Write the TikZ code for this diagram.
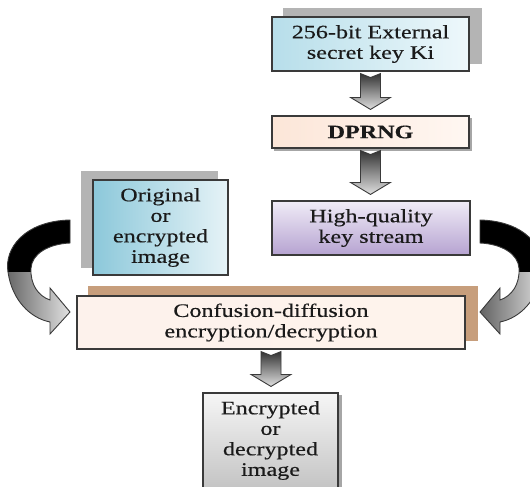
\documentclass[tikz,border=0pt]{standalone}
\usepackage{fontspec}
\setmainfont{Liberation Serif}[FakeStretch=1.27, FakeBold=0.4]
\usetikzlibrary{calc,backgrounds}
\definecolor{bordc}{HTML}{3A3A3A}
\definecolor{txtc}{HTML}{1A1A1A}
\definecolor{cyanL}{HTML}{B7DEEA}
\definecolor{cyanR}{HTML}{EEF8FB}
\definecolor{peachL}{HTML}{FCE6D8}
\definecolor{peachM}{HTML}{F8C6A4}
\definecolor{peachR}{HTML}{FFF7F2}
\definecolor{confL}{HTML}{FDF2EC}
\definecolor{confM}{HTML}{F9CBAA}
\definecolor{confR}{HTML}{FEF3EC}
\definecolor{lavT}{HTML}{F0ECF7}
\definecolor{lavB}{HTML}{B6A3D1}
\definecolor{blueL}{HTML}{8CC8DA}
\definecolor{blueR}{HTML}{E6F3F7}
\definecolor{grayT}{HTML}{F6F6F6}
\definecolor{grayB}{HTML}{C4C4C4}
\definecolor{shgray}{HTML}{B4B4B4}
\definecolor{shtan}{HTML}{C79E7C}

\newcommand\mybentarrow{%
  \path[save path=\carrp] (70,220) .. controls (25,221) and (4,248) .. (8,272)
     .. controls (12,300) and (30,318) .. (50,322) -- (50,334) -- (70,312) -- (50,288) -- (50,300)
     .. controls (38,296) and (30,284) .. (31,268) .. controls (32,254) and (48,244) .. (70,243) -- cycle;
  \begin{scope}
    \path[use path=\carrp, clip];
    \shade[left color=black!65, right color=black!8] (0,262) rectangle (75,340);
    \fill[black] (0,212) rectangle (75,272);
  \end{scope}
  \path[use path=\carrp, draw=bordc, line width=0.9pt];
}

\newcommand\myblockarrow[2]{%
  \path[barrow] let \p1=(#1.south), \p2=(#2.north) in
    (\x1-10pt,\y1-2pt) -- (\x1,\y1-6pt) -- (\x1+10pt,\y1-2pt) -- (\x1+10pt,\y2+18pt)
    -- (\x1+20pt,\y2+18pt) -- (\x1,\y2+6pt) -- (\x1-20pt,\y2+18pt) -- (\x1-10pt,\y2+18pt) -- cycle;
}

\begin{document}
\begin{tikzpicture}[x=1pt,y=-1pt,
  box/.style={draw=bordc, line width=1.1pt, inner sep=0pt, align=center, text=txtc,
    font=\fontsize{19}{20.5}\selectfont},
  barrow/.style={draw=bordc, line width=0.9pt, top color=black!80, bottom color=black!12},
  shad/.style={fill=shgray, draw=none}]
\useasboundingbox (0,0) rectangle (530,487);
\clip (0,0) rectangle (530,487);

\node[box, minimum width=197pt, minimum height=54pt, left color=cyanL, right color=cyanR]
  (key) at (370.5,44) {256-bit External\\secret key Ki};
\node[box, minimum width=197pt, minimum height=32pt, left color=peachL, middle color=peachM, right color=peachR,
  font=\fontsize{19}{20.5}\selectfont\bfseries]
  (prng) at (370.5,132) {DPRNG};
\node[box, minimum width=198pt, minimum height=54pt, top color=lavT, bottom color=lavB]
  (ks) at (371,228) {High-quality\\key stream};
\node[box, minimum width=135pt, minimum height=95pt, left color=blueL, right color=blueR]
  (orig) at (160.5,227.5) {Original\\or\\encrypted\\image};
\node[box, minimum width=388pt, minimum height=53pt, left color=confL, middle color=confM, right color=confR]
  (conf) at (271,322.5) {Confusion-diffusion\\encryption/decryption};
\node[box, minimum width=135pt, minimum height=95pt, top color=grayT, bottom color=grayB]
  (out) at (270.5,440.5) {Encrypted\\or\\decrypted\\image};

\begin{scope}[on background layer]
  \fill[shad] ([shift={(12,-8)}]key.north west) rectangle ([shift={(12,-8)}]key.south east);
  \fill[fill=gray!70] ([shift={(2.5,2.5)}]prng.north west) rectangle ([shift={(2.5,2.5)}]prng.south east);
  \fill[shad] ([shift={(-11,-8)}]orig.north west) rectangle ([shift={(-11,-8)}]orig.south east);
  \fill[fill=shtan] ([shift={(12,-9)}]conf.north west) rectangle ([shift={(12,-9)}]conf.south east);
  \fill[fill=gray!70] ([shift={(3,3)}]out.north west) rectangle ([shift={(3,3)}]out.south east);
\end{scope}

\myblockarrow{key}{prng}
\myblockarrow{prng}{ks}
\myblockarrow{conf}{out}

\mybentarrow
\begin{scope}[xshift=550pt, xscale=-1]
  \mybentarrow
\end{scope}
\end{tikzpicture}
\end{document}
